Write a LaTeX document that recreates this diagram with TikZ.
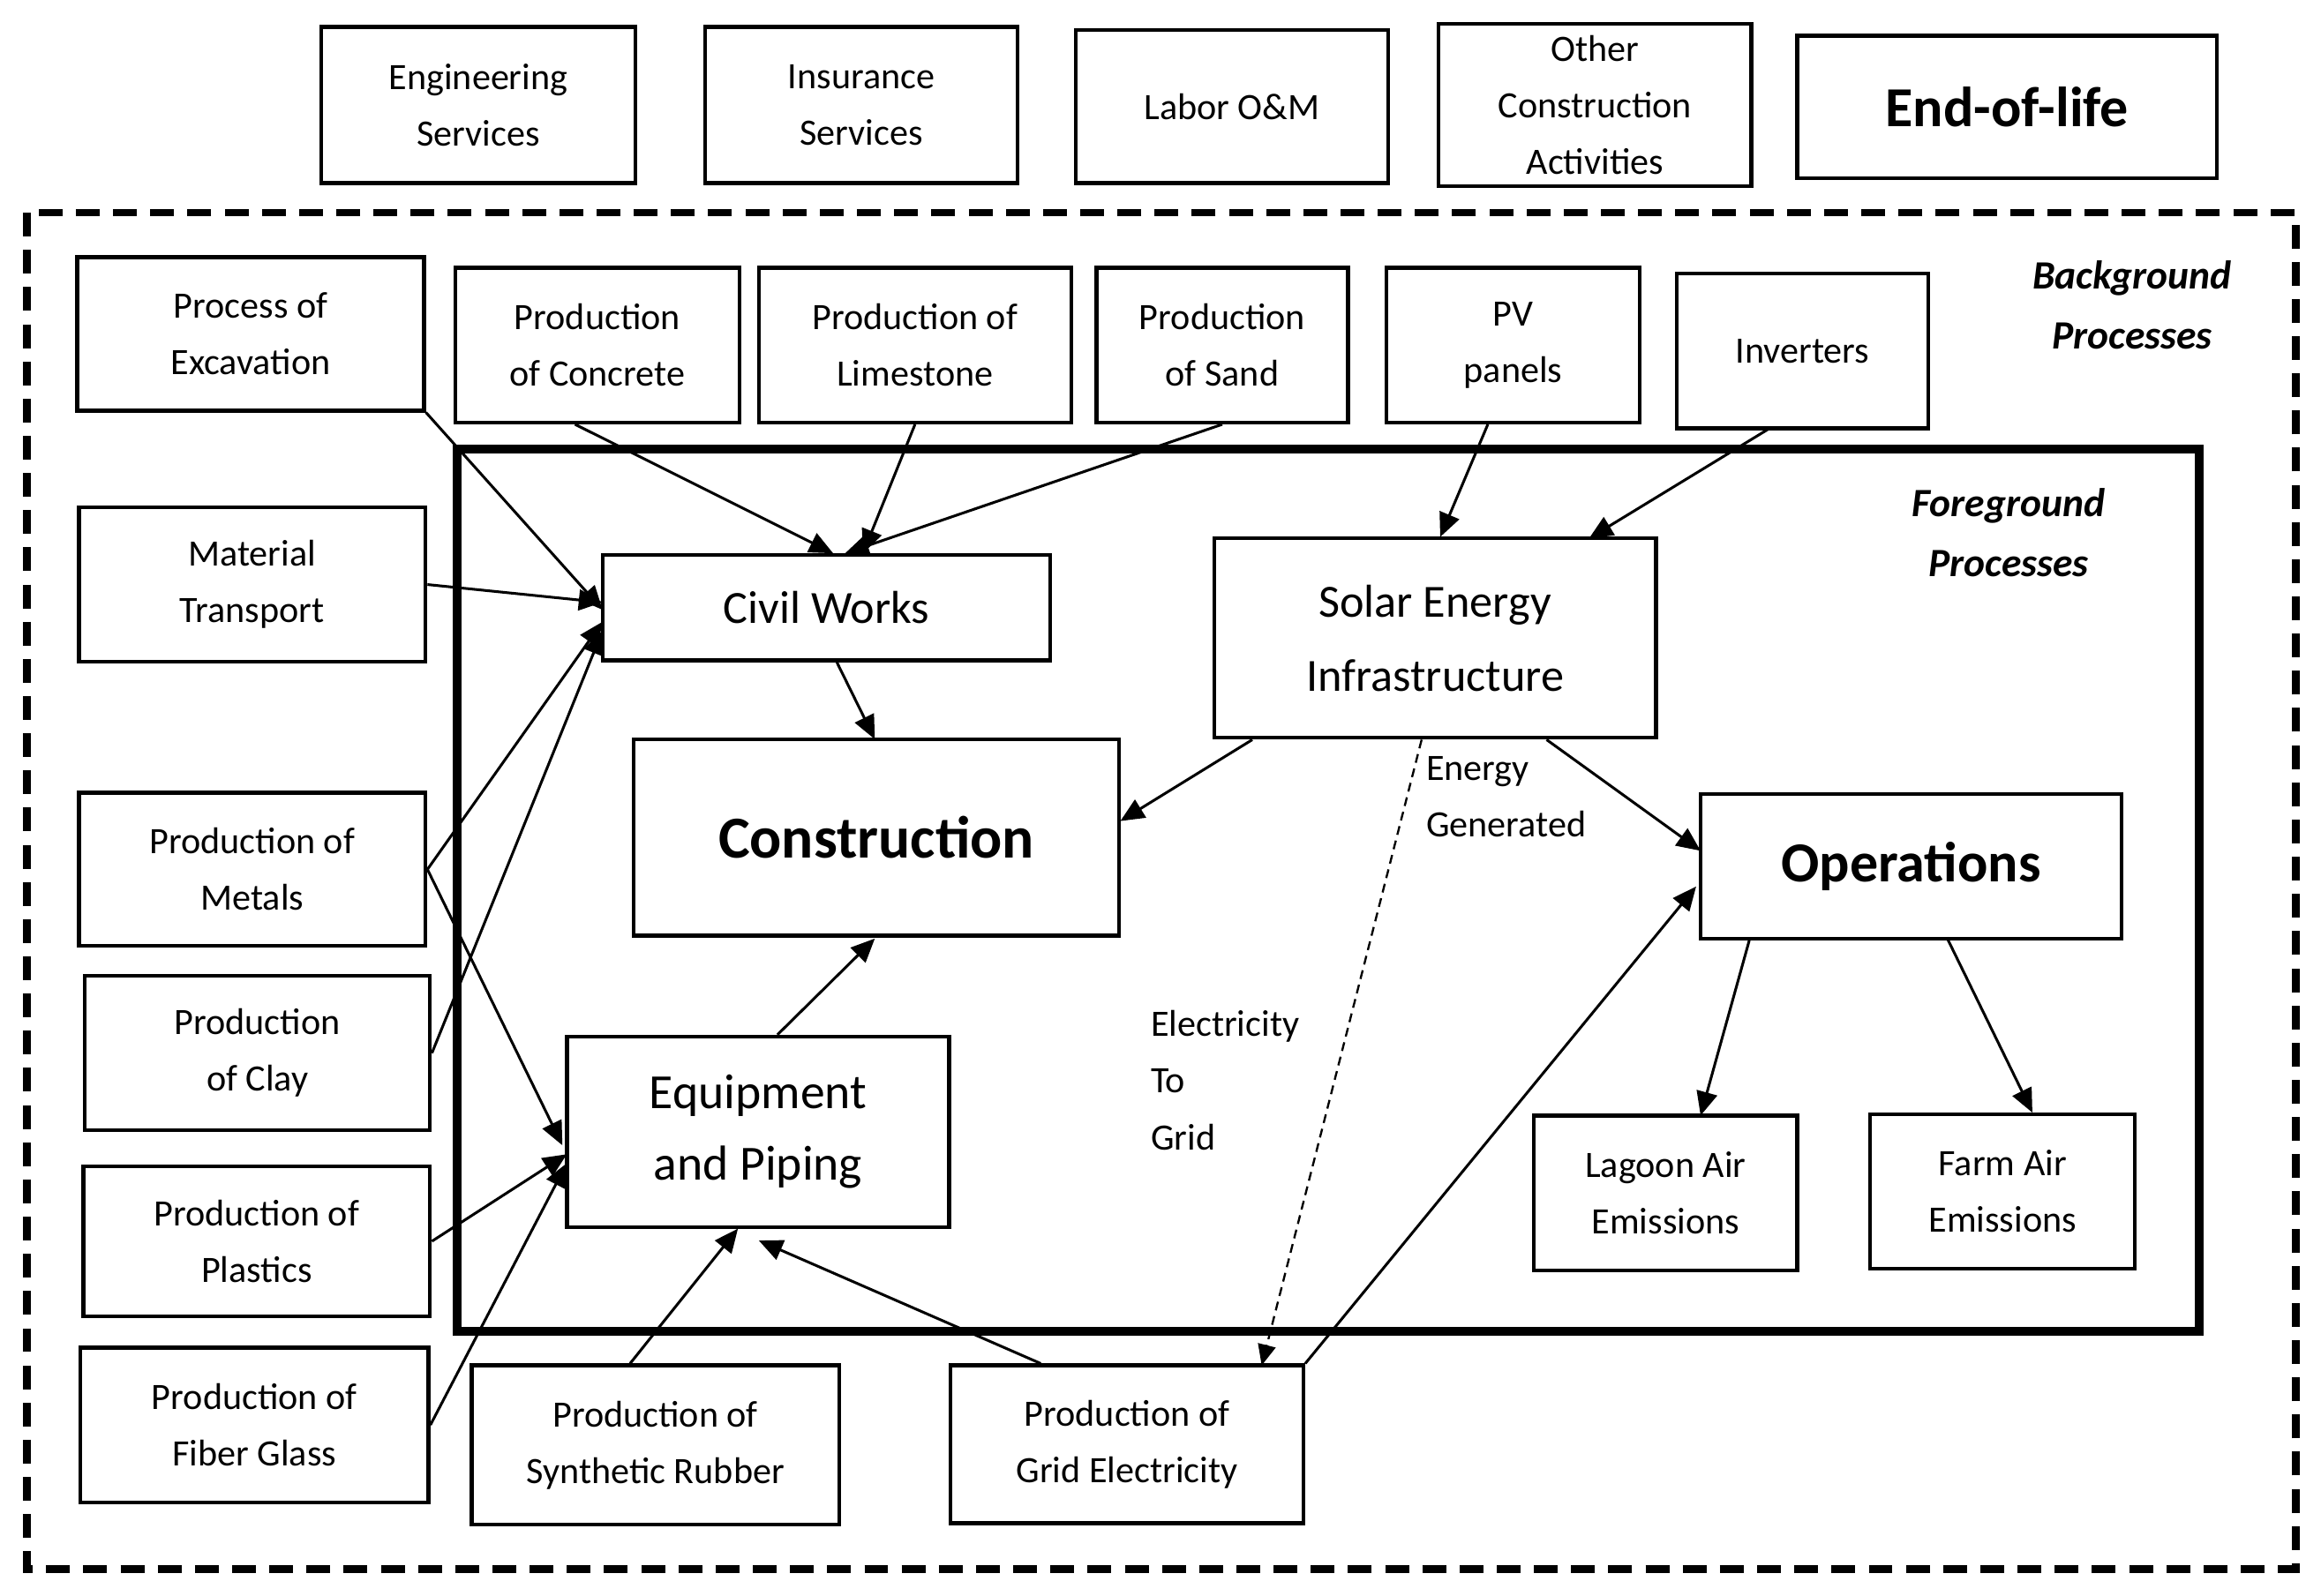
\documentclass[tikz,border=0pt]{standalone}
\usepackage{fontspec}
\setmainfont{Carlito}
\usetikzlibrary{arrows.meta}
\newcommand{\mybox}[7][]{\node[box,#1,minimum width={#5-#3},minimum height={#6-#4}] (#2) at ({(#3+#5)/2},{(#4+#6)/2}) {#7};}
\begin{document}
\begin{tikzpicture}[x=1pt,y=-1pt,
 box/.style={draw,line width=2.6pt,align=center,inner sep=0pt,font=\fontsize{25}{38}\selectfont},
 arr/.style={line width=1.8pt,-{Triangle[length=16pt,width=14pt]}}]
\useasboundingbox (0,0) rectangle (1560,1072.5);
\draw[line width=5pt,dash pattern=on 16pt off 9pt] (18,143) rectangle (1543,1055);
\draw[line width=6pt] (307,302) rectangle (1478,895);
\node[font=\fontsize{27}{40}\selectfont\bfseries\itshape,align=center] (bg) at (1433,205) {Background\\Processes};
\node[font=\fontsize{27}{40}\selectfont\bfseries\itshape,align=center] (fg) at (1350,358) {Foreground\\Processes};
\mybox{es}{216}{18}{427}{123}{Engineering\\Services}
\mybox{is}{474}{18}{684}{123}{Insurance\\Services}
\mybox{lab}{723}{20}{933}{123}{Labor O\&M}
\mybox{oca}{967}{16}{1177}{125}{Other\\Construction\\Activities}
\mybox[font=\fontsize{38}{44}\selectfont\bfseries]{eol}{1208}{24}{1490}{120}{End-of-life}
\mybox{exc}{52}{173}{285}{276}{Process of\\Excavation}
\mybox{mt}{53}{341}{286}{445}{Material\\Transport}
\mybox{met}{53}{533}{286}{636}{Production of\\Metals}
\mybox{clay}{57}{656}{289}{760}{Production\\of Clay}
\mybox{pla}{56}{784}{289}{885}{Production of\\Plastics}
\mybox{fib}{54}{906}{288}{1010}{Production of\\Fiber Glass}
\mybox{con}{306}{180}{497}{284}{Production\\of Concrete}
\mybox{lim}{510}{180}{720}{284}{Production of\\Limestone}
\mybox{sand}{737}{180}{906}{284}{Production\\of Sand}
\mybox{pv}{932}{180}{1102}{284}{PV\\panels}
\mybox{inv}{1127}{184}{1296}{288}{Inverters}
\mybox[font=\fontsize{31}{40}\selectfont]{cw}{405}{373}{706}{444}{Civil Works}
\mybox[font=\fontsize{31}{50}\selectfont]{sei}{816}{362}{1113}{496}{Solar Energy\\Infrastructure}
\mybox[font=\fontsize{40}{46}\selectfont\bfseries]{cons}{426}{497}{752}{629}{Construction}
\mybox[font=\fontsize{38}{44}\selectfont\bfseries]{ops}{1143}{534}{1426}{631}{Operations}
\mybox[font=\fontsize{33}{48}\selectfont]{eq}{381}{697}{638}{825}{Equipment\\and Piping}
\mybox{lag}{1031}{750}{1208}{854}{Lagoon Air\\Emissions}
\mybox{farm}{1257}{749}{1435}{853}{Farm Air\\Emissions}
\mybox{rub}{317}{918}{564}{1025}{Production of\\Synthetic Rubber}
\mybox{grid}{639}{918}{876}{1024}{Production of\\Grid Electricity}
\node[font=\fontsize{25}{38}\selectfont,align=left,anchor=north west] (eg) at (955,505) {Energy\\Generated};
\node[font=\fontsize{25}{38}\selectfont,align=left,anchor=north west] (etg) at (770,676) {Electricity\\To\\Grid};
\coordinate (c1) at (405,410);
\draw[arr] (exc.south east) -- (c1);
\draw[arr] (mt.east) -- (405,405);
\draw[arr] (met.east) -- (405,418);
\draw[arr] (clay.east) -- (405,424);
\draw[arr] (con.south) ++(-15,0) -- (560,372);
\draw[arr] (lim.south) -- (580,372);
\draw[arr] (sand.south) -- (568,372);
\draw[arr] (met.east) -- (378,770);
\draw[arr] (pla.east) -- (381,776);
\draw[arr] (fib.east) -- (381,782);
\draw[arr] (rub.north) ++(-17,0) -- (496,826);
\draw[arr] (grid.north) ++(-58,0) -- (510,834);
\draw[arr] (eq.north) ++(13,0) -- (588,631);
\draw[arr] (cw.south) ++(7,0) -- (588,497);
\draw[arr] (pv.south) ++(-17,0) -- (968,361);
\draw[arr] (inv.south) ++(-21,-2) -- (1068,362);
\draw[arr] (sei.south west) ++(27,0) -- (753,552);
\draw[arr] (sei.south) ++(75,0) -- (1143,572);
\draw[arr] (grid.north east) -- (1140,596);
\draw[arr] (ops.south west) ++(34,0) -- (1143,750);
\draw[arr] (ops.south) ++(24,-2) -- (1366,748);
\draw[line width=1.4pt,dash pattern=on 6pt off 4pt,-{Triangle[length=14pt,width=12pt]}] (sei.south) ++(-9,0) -- (848,918);
\end{tikzpicture}
\end{document}
